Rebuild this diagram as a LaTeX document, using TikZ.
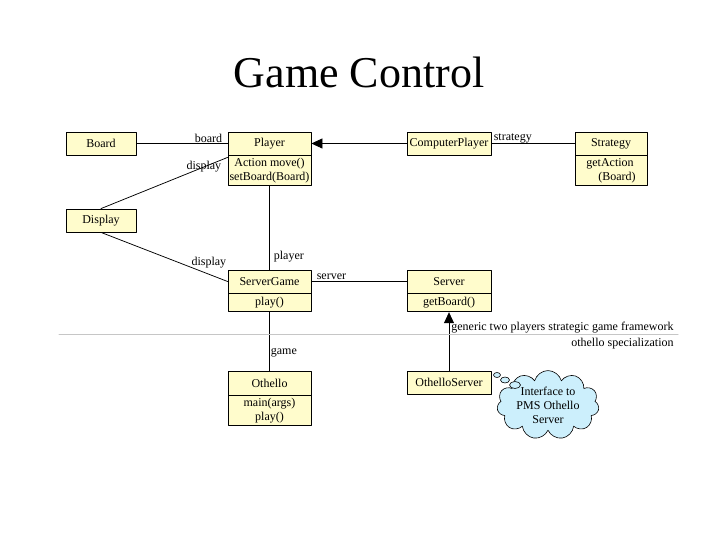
\documentclass[tikz,border=0pt]{standalone}
\usepackage{fontspec}
\setmainfont{Liberation Serif}
\usetikzlibrary{arrows.meta,shapes.symbols,shapes.geometric}
\tikzset{
  cls/.style={draw,fill=yellow!20,line width=0.8pt,inner sep=1pt,align=center,font=\fontsize{12}{14}\selectfont},
  lbl/.style={inner sep=1pt,font=\fontsize{12}{14}\selectfont},
  bubble/.style={draw,fill=cyan!20,ellipse,inner sep=0pt,line width=0.6pt},
}
\begin{document}
\begin{tikzpicture}[line cap=round,line join=round,>={Triangle[length=11pt,width=10pt]},x=1pt,y=-1pt,line width=0.75pt]
		\useasboundingbox (0,0) rectangle (718,537);
		\node[font=\fontsize{44}{50}\selectfont] (title) at (359,72) {Game Control};
		% classes
		\node[cls,minimum width=70,minimum height=23] (board) at (101,143.5) {Board};
		\node[cls,minimum width=83,minimum height=23] (player) at (269.5,143.5) {Player};
		\node[cls,minimum width=83,minimum height=30,anchor=north] (playerops) at (player.south) {Action move()\\setBoard(Board)};
		\node[cls,minimum width=84,minimum height=23] (cplayer) at (449,143.5) {ComputerPlayer};
		\node[cls,minimum width=72,minimum height=23] (strategy) at (611,143.5) {Strategy};
		\node[cls,minimum width=72,minimum height=30,anchor=north,align=left] (strategyops) at (strategy.south) {getAction\\\hspace*{1em}(Board)};
		\node[cls,minimum width=70,minimum height=23] (display) at (101,220.5) {Display};
		\node[cls,minimum width=83,minimum height=23] (sgame) at (269.5,281.5) {ServerGame};
		\node[cls,minimum width=83,minimum height=18,anchor=north] (sgameops) at (sgame.south) {play()};
		\node[cls,minimum width=84,minimum height=23] (server) at (449,281.5) {Server};
		\node[cls,minimum width=84,minimum height=18,anchor=north] (serverops) at (server.south) {getBoard()};
		\node[cls,minimum width=83,minimum height=24] (othello) at (269.5,383) {Othello};
		\node[cls,minimum width=83,minimum height=30,anchor=north] (othelloops) at (othello.south) {main(args)\\play()};
		\node[cls,minimum width=84,minimum height=23] (oserver) at (449,382.5) {OthelloServer};
		% associations
		\draw (board.east) -- (player.west) node[lbl,pos=1,anchor=south east,xshift=-4] {board};
		\draw (display.north) -- ([yshift=-2]playerops.north west) node[lbl,pos=1,anchor=north east,xshift=-5,yshift=-2] {display};
		\draw (display.south) -- (sgame.west) node[lbl,pos=1,anchor=south east,yshift=12] {display};
		\draw (playerops.south) -- (sgame.north) node[lbl,pos=1,anchor=south west,xshift=3,yshift=6] {player};
		\draw (sgame.east) -- (server.west) node[lbl,pos=0,anchor=south west,xshift=4,yshift=1] {server};
		\draw (sgameops.south) -- (othello.north) node[lbl,pos=1,anchor=south west,yshift=12] {game};
		\draw (cplayer.east) -- (strategy.west) node[lbl,pos=0,anchor=south west,xshift=1,yshift=-1] {strategy};
		% inheritance
		\draw[->] (cplayer.west) -- (player.east);
		\draw[->] (oserver.north) -- (serverops.south);
		% package boundary
		\draw[gray!45,line width=1pt] (59,335) -- (678,335);
		\node[lbl,anchor=south east] (generic) at (675,334) {generic two players strategic game framework};
		\node[lbl,anchor=north east] (special) at (675,337) {othello specialization};
		% note
		\node[cloud,cloud puffs=11,cloud ignores aspect,draw,fill=cyan!20,line width=0.6pt,minimum width=102,minimum height=58,inner sep=0pt,align=center,font=\fontsize{12}{14}\selectfont] (note) at (548,405) {Interface to\\PMS Othello\\Server};
		\node[bubble,minimum width=7,minimum height=5] (b1) at (497,375) {};
		\node[bubble,minimum width=9,minimum height=6] (b2) at (505,380) {};
		\node[bubble,minimum width=11,minimum height=7] (b3) at (515,385) {};
		\end{tikzpicture}
\end{document}
